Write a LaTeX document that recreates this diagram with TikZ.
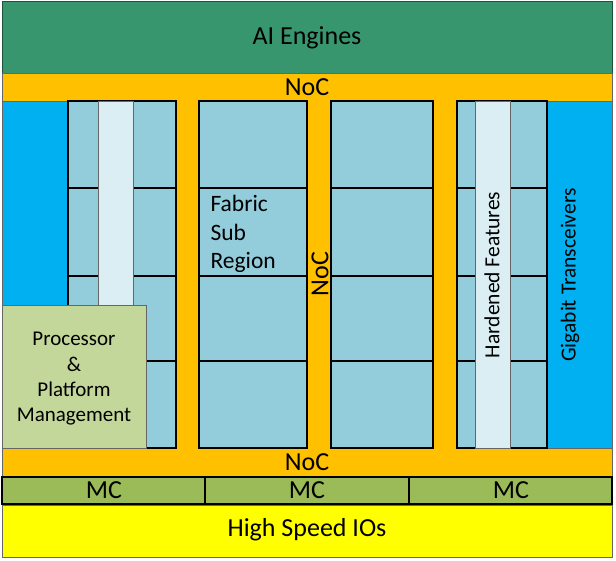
\documentclass[tikz,border=0pt]{standalone}
\usepackage{fontspec}
\setmainfont{Carlito}
\definecolor{aigreen}{HTML}{38966E}
\definecolor{nocorange}{HTML}{FFC000}
\definecolor{gtblue}{HTML}{00B0F0}
\definecolor{fabblue}{HTML}{93CDDC}
\definecolor{hardblue}{HTML}{DAEEF3}
\definecolor{pmcgreen}{HTML}{C4D79B}
\definecolor{mcgreen}{HTML}{9BBB59}
\definecolor{hsioyellow}{HTML}{FFFF00}
\newcommand{\fsz}[2]{\fontsize{#1}{#2}\selectfont}
\begin{document}
\begin{tikzpicture}[x=1pt,y=-1pt,font=\fsz{26}{30},
    blockline/.style={draw=gray!80!black,line width=0.8pt},
    fabline/.style={draw=black,line width=2pt},
    mcline/.style={draw=black,line width=1.5pt}]
            \useasboundingbox (0,0) rectangle (616,560);

            % AI engines and NoC ring
            \draw[blockline,fill=aigreen,draw=aigreen!55!black] (2,1) -- (612,1) -- (612,73) -- (2,73) -- cycle;
            \draw[blockline,fill=nocorange] (2,73) -- (612,73) -- (612,476) -- (2,476) -- cycle;

            % transceivers
            \draw[blockline,fill=gtblue] (2,101) -- (68,101) -- (68,448) -- (2,448) -- cycle;
            \draw[blockline,fill=gtblue] (547,101) -- (612,101) -- (612,448) -- (547,448) -- cycle;

            % fabric columns
            \foreach \xa/\xb in {68/176,199/307,331/433,457/547} {
                \draw[fabline,fill=fabblue] (\xa,101) -- (\xb,101) -- (\xb,448) -- (\xa,448) -- cycle;
                \foreach \y in {188,276,361}
                    \draw[fabline] (\xa,\y) -- (\xb,\y);
            }

            % hardened columns
            \draw[blockline,fill=hardblue] (98,101) -- (133,101) -- (133,448) -- (98,448) -- cycle;
            \draw[blockline,fill=hardblue] (475,101) -- (510,101) -- (510,448) -- (475,448) -- cycle;

            % processor
            \draw[blockline,fill=pmcgreen] (2,305) -- (146,305) -- (146,448) -- (2,448) -- cycle;

            % memory controllers and IOs
            \draw[mcline,fill=mcgreen] (2,477) -- (205,477) -- (205,504) -- (2,504) -- cycle;
            \draw[mcline,fill=mcgreen] (205,477) -- (409,477) -- (409,504) -- (205,504) -- cycle;
            \draw[mcline,fill=mcgreen] (409,477) -- (612,477) -- (612,504) -- (409,504) -- cycle;
            \draw[blockline,fill=hsioyellow] (2,505) -- (612,505) -- (612,557) -- (2,557) -- cycle;

            % labels
            \node (aie) at (307,38) {AI Engines};
            \node (noctop) at (307,87) {NoC};
            \node (nocbot) at (307,462) {NoC};
            \node[rotate=90] (nocmid) at (320,274) {NoC};

            \node[align=left,anchor=west,font=\fsz{23.5}{28.5}] (fsr) at (207,234) {Fabric\\Sub\\Region};
            \node[align=center,font=\fsz{21}{25.3}] (pmc) at (74,379) {Processor\\\&\\Platform\\Management};

            \node[rotate=90,font=\fsz{21.5}{25}] (hard) at (492,275) {Hardened Features};
            \node[rotate=90,font=\fsz{21.5}{25}] (gt) at (570,275) {Gigabit Transceivers};

            \node (mca) at (104,490) {MC};
            \node (mcb) at (307,490) {MC};
            \node (mcc) at (511,490) {MC};
            \node (hsio) at (307,530) {High Speed IOs};

        \end{tikzpicture}
\end{document}
